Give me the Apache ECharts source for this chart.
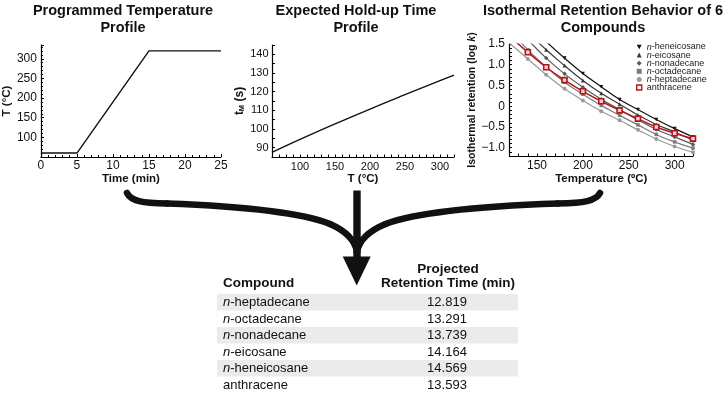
<!DOCTYPE html>
<html><head><meta charset="utf-8">
<script src="https://cdn.jsdelivr.net/npm/echarts@6/dist/echarts.min.js"></script>
<style>html,body{margin:0;padding:0;background:#fff}#c{width:728px;height:396px}</style>
</head><body><div id="c"></div>
<script>
const FONT = '"Liberation Sans", Arial, Helvetica, sans-serif';

// Panel 1: programmed temperature profile
const progTime = [0, 5, 15, 25];
const progTemp = [60, 60, 320, 320];

// Panel 2: expected hold-up time profile
const holdT = [60, 100, 150, 200, 250, 300, 320];
const holdTM = [87.5, 94.4, 102.7, 110.7, 118.4, 125.9, 128.9];

// Panel 3: isothermal retention (log k) vs temperature
const isoT = [120, 140, 160, 180, 200, 220, 240, 260, 280, 300, 320];
const heneicosane = [2.50, 2.02, 1.56, 1.16, 0.79, 0.47, 0.16, -0.08, -0.32, -0.54, -0.74];
const eicosane    = [2.30, 1.80, 1.36, 0.98, 0.62, 0.31, 0.05, -0.21, -0.44, -0.62, -0.82];
const nonadecane  = [2.05, 1.60, 1.16, 0.78, 0.46, 0.17, -0.08, -0.33, -0.56, -0.74, -0.92];
const octadecane  = [1.84, 1.36, 0.95, 0.58, 0.29, 0.02, -0.22, -0.45, -0.68, -0.86, -1.01];
const heptadecane = [1.52, 1.14, 0.76, 0.42, 0.14, -0.12, -0.34, -0.57, -0.79, -0.97, -1.11];
const anthracene  = [1.69, 1.30, 0.94, 0.63, 0.36, 0.12, -0.10, -0.30, -0.50, -0.65, -0.78];

// Table
const compounds = ['n-heptadecane', 'n-octadecane', 'n-nonadecane', 'n-eicosane', 'n-heneicosane', 'anthracene'];
const retTimes = [12.819, 13.291, 13.739, 14.164, 14.569, 13.593];

const DOWN_TRI = 'path://M0,0L10,0L5,9Z';
const isoCfg = [
  {name: 'n-heptadecane', vals: heptadecane, color: '#9a9a9a', symbol: 'circle', size: 4},
  {name: 'n-octadecane', vals: octadecane, color: '#7a7a7a', symbol: 'rect', size: 3.5},
  {name: 'n-nonadecane', vals: nonadecane, color: '#5a5a5a', symbol: 'diamond', size: 4.5},
  {name: 'n-eicosane', vals: eicosane, color: '#3a3a3a', symbol: 'triangle', size: 4},
  {name: 'n-heneicosane', vals: heneicosane, color: '#111111', symbol: DOWN_TRI, size: 4},
  {name: 'anthracene', vals: anthracene, color: '#b3151d', symbol: 'rect', size: 5}
];

function axis(o) {
  const base = {
    type: 'value',
    axisLine: {show: true, onZero: false, lineStyle: {color: '#000', width: 1.2}},
    axisTick: {show: true, inside: true, length: 3, lineStyle: {color: '#000', width: 1}},
    minorTick: {show: false},
    splitLine: {show: false},
    nameLocation: 'middle',
    nameTextStyle: {color: '#111', fontFamily: FONT, fontWeight: 'bold', fontSize: 11.5}
  };
  const r = Object.assign({}, base, o);
  r.axisLabel = Object.assign({color: '#111', fontFamily: FONT, fontSize: 12, margin: 4}, o.axisLabel || {});
  if (o.nameTextStyle) r.nameTextStyle = Object.assign({}, base.nameTextStyle, o.nameTextStyle);
  if (o.axisTick) r.axisTick = Object.assign({}, base.axisTick, o.axisTick);
  return r;
}

function fmtLogK(v) {
  const r = Math.round(v * 10);
  if (r % 5 !== 0) return '';
  const x = r / 10;
  if (x === 0) return '0';
  return (x < 0 ? '\u2212' : '') + Math.abs(x).toFixed(1);
}

const series = [
  {type: 'line', xAxisIndex: 0, yAxisIndex: 0, data: progTime.map((t, i) => [t, progTemp[i]]),
   symbol: 'none', lineStyle: {color: '#111', width: 1.4}, silent: true},
  {type: 'line', xAxisIndex: 1, yAxisIndex: 1, data: holdT.map((t, i) => [t, holdTM[i]]),
   smooth: true, symbol: 'none', lineStyle: {color: '#111', width: 1.4}, silent: true}
];
isoCfg.forEach(c => {
  const isA = c.name === 'anthracene';
  series.push({
    type: 'line', name: c.name, xAxisIndex: 2, yAxisIndex: 2, smooth: 0.4, clip: true,
    data: isoT.map((t, i) => i === 0 ? {value: [t, c.vals[i]], symbol: 'none'} : [t, c.vals[i]]),
    symbol: c.symbol, symbolSize: c.size, symbolKeepAspect: true, showAllSymbol: true,
    lineStyle: {color: c.color, width: isA ? 1.5 : 1.2},
    itemStyle: isA ? {color: '#f2d4d4', borderColor: c.color, borderWidth: 1.6} : {color: c.color, borderWidth: 0},
    silent: true
  });
});

const legendOrder = ['n-heneicosane', 'n-eicosane', 'n-nonadecane', 'n-octadecane', 'n-heptadecane', 'anthracene'];
const legendData = legendOrder.map(n => {
  const c = isoCfg.find(x => x.name === n);
  const isA = n === 'anthracene';
  return {name: n, icon: c.symbol,
    itemStyle: isA ? {color: '#fff', borderColor: c.color, borderWidth: 1.4} : {color: c.color, borderWidth: 0}};
});

const graphics = [];
// titles
[
  {x: 123, text: 'Programmed Temperature\nProfile'},
  {x: 356, text: 'Expected Hold-up Time\nProfile'},
  {x: 603, text: 'Isothermal Retention Behavior of 6\nCompounds'}
].forEach(t => graphics.push({type: 'text', x: t.x, y: 2, style: {text: t.text, fontFamily: FONT, fontWeight: 'bold', fontSize: 14.5, lineHeight: 17, fill: '#111', align: 'center', verticalAlign: 'top'}}));

// brace arrow
const braceL = [
  [127, 193, 131, 201, 142, 203, 167, 203.5],
  [167, 203.5, 235, 206, 300, 212, 330, 224],
  [330, 224, 346, 231, 355, 240, 357, 252]
];
const cx = 357, k = 243 / 230;
const mx = x => cx + (cx - x) * k;
const braceR = braceL.map(s => [mx(s[0]), s[1], mx(s[2]), s[3], mx(s[4]), s[5], mx(s[6]), s[7]]);
braceL.concat(braceR).forEach(s => graphics.push({type: 'bezierCurve',
  shape: {x1: s[0], y1: s[1], cpx1: s[2], cpy1: s[3], cpx2: s[4], cpy2: s[5], x2: s[6], y2: s[7]},
  style: {stroke: '#111', lineWidth: 6.5, fill: null, lineCap: 'round'}}));
graphics.push({type: 'rect', shape: {x: 353.3, y: 190.5, width: 7.4, height: 68}, style: {fill: '#111'}});
graphics.push({type: 'polygon', shape: {points: [[342.7, 256.5], [370.7, 256.5], [356.7, 285.5]]}, style: {fill: '#111'}});

// table
const rowTop = 294, rowH = 16.5;
compounds.forEach((c, i) => {
  const top = rowTop + i * rowH;
  if (i % 2 === 0) graphics.push({type: 'rect', shape: {x: 217, y: top, width: 301, height: rowH}, style: {fill: '#ebebeb'}});
});
graphics.push({type: 'text', x: 223, y: 283.5, style: {text: 'Compound', fontFamily: FONT, fontWeight: 'bold', fontSize: 13.5, fill: '#111', align: 'left', verticalAlign: 'middle'}});
graphics.push({type: 'text', x: 448, y: 276.5, style: {text: 'Projected\nRetention Time (min)', fontFamily: FONT, fontWeight: 'bold', fontSize: 13.5, lineHeight: 14.5, fill: '#111', align: 'center', verticalAlign: 'middle'}});
compounds.forEach((c, i) => {
  const top = rowTop + i * rowH;
  graphics.push({type: 'text', x: 223, y: top + rowH / 2 + 0.5, style: {
    text: c.startsWith('n-') ? '{i|n}-' + c.slice(2) : c,
    fontFamily: FONT, fontSize: 13, fill: '#111', align: 'left', verticalAlign: 'middle',
    rich: {i: {fontStyle: 'italic', fontFamily: FONT, fontSize: 13, fill: '#111'}}}});
  graphics.push({type: 'text', x: 447, y: top + rowH / 2 + 0.5, style: {
    text: retTimes[i].toFixed(3), fontFamily: FONT, fontSize: 13, fill: '#111', align: 'center', verticalAlign: 'middle'}});
});

const option = {
  animation: false,
  backgroundColor: '#fff',
  grid: [
    {left: 38, top: 45, width: 183, height: 112},
    {left: 272, top: 45, width: 182, height: 112},
    {left: 509.5, top: 44, width: 183.5, height: 112}
  ],
  xAxis: [
    axis({gridIndex: 0, min: 0, max: 25, interval: 5, name: 'Time (min)', nameGap: 15,
      minorTick: {show: true, splitNumber: 5, length: 2, lineStyle: {color: '#000'}},
      axisLabel: {fontSize: 12, margin: 3}}),
    axis({gridIndex: 1, min: 60, max: 320, interval: 10, name: 'T (°C)', nameGap: 16,
      axisTick: {length: 2.5},
      axisLabel: {fontSize: 11, margin: 4, formatter: v => (v % 50 === 0 ? String(v) : '')}}),
    axis({gridIndex: 2, min: 120, max: 320, interval: 10, name: 'Temperature (ºC)', nameGap: 16,
      axisTick: {length: 2.5},
      axisLabel: {fontSize: 12, margin: 4, formatter: v => (v % 50 === 0 ? String(v) : '')}})
  ],
  yAxis: [
    axis({gridIndex: 0, min: 50, max: 335, interval: 50, name: 'T (°C)', nameGap: 23.5,
      minorTick: {show: true, splitNumber: 5, length: 2, lineStyle: {color: '#000'}},
      axisLabel: {fontSize: 12, margin: 4, formatter: v => ((v % 50 === 0 && v >= 100) ? String(v) : '')}}),
    axis({gridIndex: 1, min: 85, max: 145, interval: 5, name: 't{m|M} (s)', nameGap: 18.5,
      axisTick: {length: 3},
      nameTextStyle: {fontSize: 12, lineHeight: 14, rich: {m: {fontSize: 7.5, fontWeight: 'bold', fontFamily: FONT, color: '#111', verticalAlign: 'bottom', lineHeight: 14}}},
      axisLabel: {fontSize: 11, margin: 3.5, formatter: v => (Math.round(v) % 10 === 0 ? String(Math.round(v)) : '')}}),
    axis({gridIndex: 2, min: -1.2, max: 1.5, interval: 0.1, name: 'Isothermal retention (log {k|k})', nameGap: 25,
      axisTick: {length: 2.5},
      nameTextStyle: {fontSize: 10.5, rich: {k: {fontStyle: 'italic', fontWeight: 'bold', fontSize: 10.5, fontFamily: FONT, color: '#111'}}},
      axisLabel: {fontSize: 12, margin: 4.5, formatter: fmtLogK}})
  ],
  legend: {
    orient: 'vertical', left: 636, top: 42.5, padding: 0, itemGap: -0.9, itemWidth: 5, itemHeight: 5,
    selectedMode: false,
    textStyle: {fontFamily: FONT, fontSize: 9, color: '#222', lineHeight: 8,
      rich: {i: {fontStyle: 'italic', fontFamily: FONT, fontSize: 9, color: '#222', lineHeight: 8}}},
    formatter: n => (n.startsWith('n-') ? '{i|n}-' + n.slice(2) : n),
    data: legendData
  },
  series: series,
  graphic: {elements: graphics}
};
const chart = echarts.init(document.getElementById('c'));
chart.setOption(option);
</script>
</body></html>
